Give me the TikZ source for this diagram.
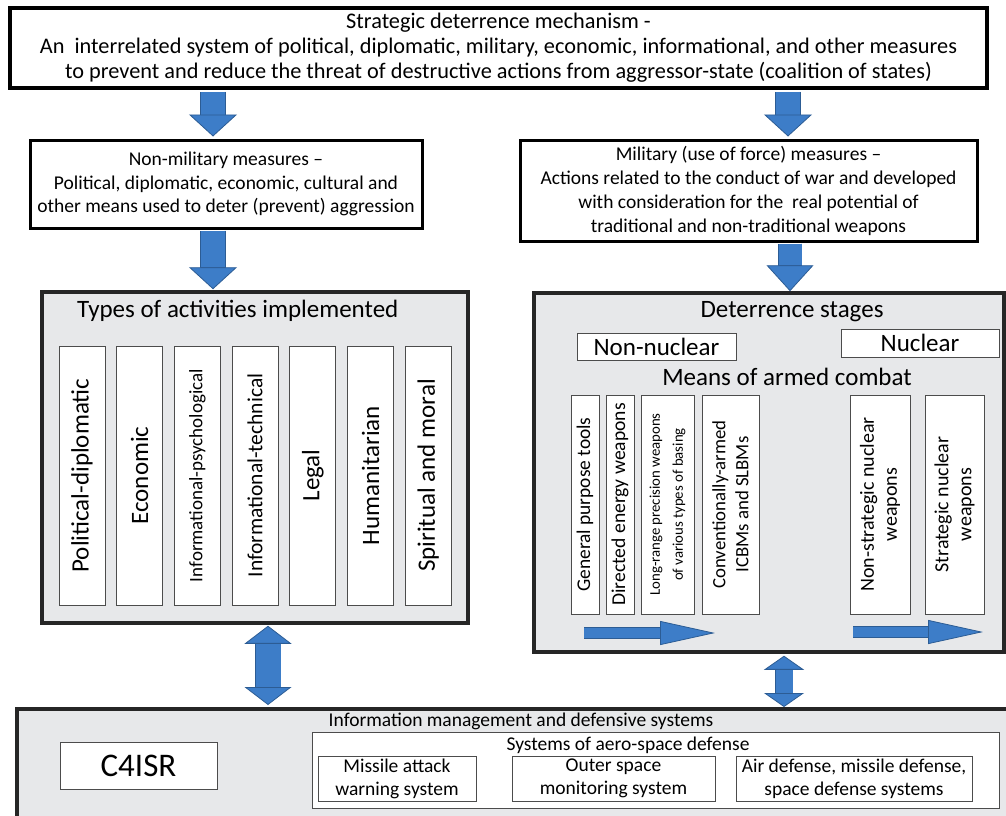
\documentclass[tikz,border=0pt]{standalone}
\usepackage{fontspec}
\setmainfont{Carlito}
\usetikzlibrary{arrows.meta,calc}
\definecolor{arrowblue}{RGB}{61,125,200}
\definecolor{arrowedge}{RGB}{44,92,148}
\definecolor{panelgray}{RGB}{231,232,234}
\newcommand{\fsz}[1]{\fontsize{#1}{#1}\selectfont}
\tikzset{
  mainbox/.style={draw=black, line width=3.5pt, fill=white, align=center, inner sep=0pt},
  panel/.style={draw=black!85, line width=3.5pt, fill=panelgray, inner sep=0pt},
  colbox/.style={draw=black!70, line width=1pt, fill=white, rotate=90, align=center, inner sep=0pt},
  tagbox/.style={draw=black!70, line width=1pt, fill=white, align=center, inner sep=0pt},
  blockarrow/.style n args={5}{line width=#1, draw=arrowblue,
    -{Triangle[width=#3,length=#4,line width=0.8pt,fill=arrowblue,color=arrowedge]},
    preaction={draw=arrowedge, line width=#2, arrows=-, shorten >=#5}},
  blockdouble/.style n args={5}{line width=#1, draw=arrowblue,
    {Triangle[width=#3,length=#4,line width=0.8pt,fill=arrowblue,color=arrowedge]}-{Triangle[width=#3,length=#4,line width=0.8pt,fill=arrowblue,color=arrowedge]},
    preaction={draw=arrowedge, line width=#2, arrows=-, shorten >=#5, shorten <=#5}},
}
\begin{document}
\begin{tikzpicture}[x=1pt,y=-1pt]
\clip (0,0) rectangle (1006,816);
\fill[white] (0,0) rectangle (1006,816);
\node[mainbox, minimum width=977pt, minimum height=80pt, font=\fontsize{22.3}{25}\selectfont] (mech) at (498.5,48)
  {Strategic deterrence mechanism -\\An\ \ interrelated system of political, diplomatic, military, economic, informational, and other measures\\to prevent and reduce the threat of destructive actions from aggressor-state (coalition of states)};
\node[mainbox, line width=3pt, minimum width=392pt, minimum height=88pt, font=\fontsize{19.5}{23.5}\selectfont] (nonmil) at (226,184)
  {Non-military measures --\\Political, diplomatic, economic, cultural and\\other means used to deter (prevent) aggression};
\node[mainbox, line width=3pt, minimum width=457pt, minimum height=101pt, font=\fontsize{19.5}{24}\selectfont] (mil) at (748.5,190.5)
  {Military (use of force) measures --\\Actions related to the conduct of war and developed\\with consideration for the\ \ real potential of\\traditional and non-traditional weapons};
\node[panel, minimum width=426pt, minimum height=331pt] (acts) at (255,457.5) {};
\node[anchor=west, inner sep=0pt, font=\fsz{25}] (actstitle) at (77,311) {Types of activities implemented};
\foreach \lbl/\fs [count=\i from 0] in {Political-diplomatic/25, Economic/25, Informational-psychological/19, Informational-technical/21.5, Legal/25, Humanitarian/25, Spiritual and moral/25}
  \node[colbox, minimum width=259pt, minimum height=46pt, font=\fsz{\fs}] (act\i) at ({82+57.7*\i},475.5) {\lbl};
\node[panel, minimum width=470pt, minimum height=359pt] (stages) at (769,472.5) {};
\node[font=\fsz{25}] (stagestitle) at (792,312) {Deterrence stages};
\node[tagbox, minimum width=159pt, minimum height=27pt, font=\fsz{25}] (nonnuc) at (656.5,346.5) {Non-nuclear};
\node[tagbox, minimum width=158pt, minimum height=28pt, font=\fsz{25}] (nuc) at (920,343) {Nuclear};
\node[font=\fsz{25}] (means) at (787,377) {Means of armed combat};
\foreach \nm/\cx/\w/\lbl/\fs in {gen/585/28/General purpose tools/19.4, dir/620/28/Directed energy weapons/19.6,
    lrp/667.5/53/Long-range precision weapons\\of various types of basing/14.8, conv/730.5/57/Conventionally-armed\\ICBMs and SLBMs/18.8,
    nstrat/880/60/Non-strategic nuclear\\weapons/20, strat/954.5/59/Strategic nuclear\\weapons/20}
  \node[colbox, minimum width=219pt, minimum height=\w pt, font=\fontsize{\fs}{23}\selectfont] (\nm) at (\cx,504.5) {\lbl};
\coordinate (s1a) at (584,633); \coordinate (s1b) at (715,633);
\coordinate (s2a) at (853,632); \coordinate (s2b) at (983,632);
\draw[blockarrow={10pt}{11.6pt}{24pt}{55pt}{52pt}] (s1a) -- (s1b);
\draw[blockarrow={10pt}{11.6pt}{24pt}{55pt}{52pt}] (s2a) -- (s2b);
\node[panel, minimum width=1010pt, minimum height=130pt, anchor=north west] (info) at (15,707) {};
\node[font=\fsz{19.5}] (infotitle) at (521,721) {Information management and defensive systems};
\node[tagbox, minimum width=157pt, minimum height=47pt, font=\fsz{33}] (c4isr) at (138.5,765.5) {C4ISR};
\node[tagbox, minimum width=687pt, minimum height=76pt] (aero) at (655.5,770) {};
\node[font=\fsz{19.5}] (aerotitle) at (628,745) {Systems of aero-space defense};
\node[tagbox, minimum width=158pt, minimum height=45pt, font=\fontsize{19.5}{23}\selectfont] (maws) at (397,778.5) {Missile attack\\warning system};
\node[tagbox, minimum width=203pt, minimum height=45pt, font=\fontsize{19.5}{23}\selectfont] (osms) at (613.5,778.5) {Outer space\\monitoring system};
\node[tagbox, minimum width=236pt, minimum height=45pt, font=\fontsize{19.5}{23}\selectfont] (adms) at (854,778.5) {Air defense, missile defense,\\space defense systems};
\coordinate (x1) at (213,0); \coordinate (x2) at (788,0); \coordinate (x3) at (790,0);
\coordinate (x4) at (268,0); \coordinate (x5) at (784,0);
\draw[blockarrow={24pt}{25.6pt}{48pt}{22pt}{19pt}] ($(mech.south -| x1)+(0,2)$) -- ($(nonmil.north -| x1)+(0,-2)$);
\draw[blockarrow={24pt}{25.6pt}{48pt}{22pt}{19pt}] ($(mech.south -| x2)+(0,2)$) -- ($(mil.north -| x2)+(0,-2)$);
\draw[blockarrow={24pt}{25.6pt}{48pt}{22pt}{19pt}] ($(nonmil.south -| x1)+(0,1)$) -- ($(acts.north -| x1)+(0,-1)$);
\draw[blockarrow={23pt}{24.6pt}{47pt}{26pt}{23pt}] ($(mil.south -| x3)+(0,1)$) -- ($(stages.north -| x3)+(0,0)$);
\draw[blockdouble={25pt}{26.6pt}{47pt}{18pt}{15pt}] ($(acts.south -| x4)+(0,1)$) -- ($(info.north -| x4)+(0,-2)$);
\draw[blockdouble={17pt}{18.6pt}{40pt}{14pt}{11pt}] ($(stages.south -| x5)+(0,2)$) -- ($(info.north -| x5)+(0,0)$);
\end{tikzpicture}
\end{document}
